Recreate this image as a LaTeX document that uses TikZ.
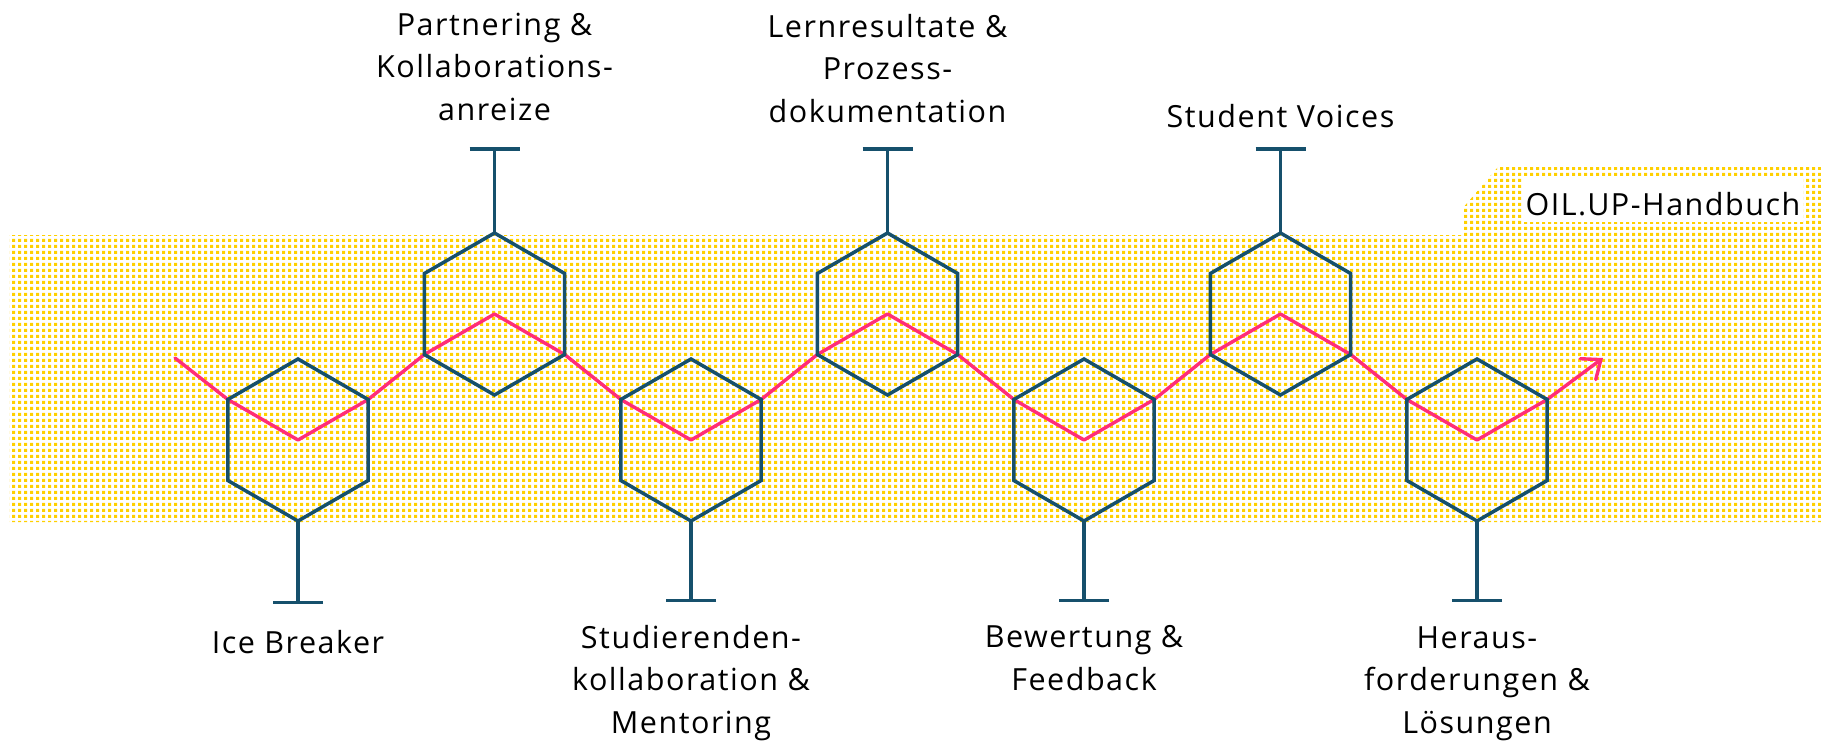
\documentclass[tikz,border=0pt]{standalone}
\usepackage{fontspec}
\setmainfont[LetterSpace=5]{Open Sans}
\usetikzlibrary{shapes.geometric,arrows.meta,patterns}
\definecolor{hexblue}{HTML}{16506C}
\definecolor{oilpink}{HTML}{FF2D78}
\definecolor{dotyellow}{HTML}{FFD000}
\pgfdeclarepatternformonly{ydots}{\pgfqpoint{0pt}{0pt}}{\pgfqpoint{5.5pt}{5.5pt}}{\pgfqpoint{5.5pt}{5.5pt}}{%
  \pgfpathrectangle{\pgfqpoint{1.1pt}{1.1pt}}{\pgfqpoint{3.3pt}{3.3pt}}\pgfusepath{fill}}
\pgfdeclarelayer{back}
\pgfdeclarelayer{mid}
\pgfsetlayers{back,mid,main}
\begin{document}
\begin{tikzpicture}[x=1pt,y=-1pt,
  hexagon/.style={regular polygon, regular polygon sides=6, shape border rotate=30,
    minimum size=162pt, inner sep=0pt, outer sep=0pt, draw=hexblue, line width=3.5pt},
  stem/.style={draw=hexblue, line width=3.5pt, -{Bar[width=50pt]}},
  zigzag/.style={draw=oilpink, line width=3.4pt, line join=round, line cap=round},
  lbl/.style={font=\fontsize{30.5}{42.5}\selectfont, align=center, inner sep=0pt, anchor=base}]
\useasboundingbox (0,0) rectangle (1821,745);

% background band
\begin{pgfonlayer}{back}
\fill[pattern=ydots, pattern color=dotyellow]
  (9,235) -- (1462,235) -- (1462,209) -- (1498,167) -- (1821,167) -- (1821,522) -- (9,522) -- cycle;
\end{pgfonlayer}

% hexagons
\node[hexagon] (L1) at (298,440) {};
\node[hexagon] (U1) at (494.5,314) {};
\node[hexagon] (L2) at (691,440) {};
\node[hexagon] (U2) at (887.5,314) {};
\node[hexagon] (L3) at (1084,440) {};
\node[hexagon] (U3) at (1280.5,314) {};
\node[hexagon] (L4) at (1477,440) {};

% pink path
\coordinate (pstart) at (175,358);
\coordinate (pend) at (1603,358);
\begin{pgfonlayer}{mid}
\draw[zigzag, -{Straight Barb[length=16pt,width=26pt,line cap=round]}]
  (pstart) -- (L1.150) -- (L1.center) -- (L1.30)
  -- (U1.210) -- (U1.center) -- (U1.330)
  -- (L2.150) -- (L2.center) -- (L2.30)
  -- (U2.210) -- (U2.center) -- (U2.330)
  -- (L3.150) -- (L3.center) -- (L3.30)
  -- (U3.210) -- (U3.center) -- (U3.330)
  -- (L4.150) -- (L4.center) -- (L4.30) -- (pend);
\end{pgfonlayer}

% stems
\coordinate (L1b) at (298,604);
\coordinate (L2b) at (691,602);
\coordinate (L3b) at (1084,602);
\coordinate (L4b) at (1477,602);
\coordinate (U1b) at (494.5,147);
\coordinate (U2b) at (887.5,147);
\coordinate (U3b) at (1280.5,147);
\draw[stem] (L1.270) -- (L1b);
\draw[stem] (L2.270) -- (L2b);
\draw[stem] (L3.270) -- (L3b);
\draw[stem] (L4.270) -- (L4b);
\draw[stem] (U1.90) -- (U1b);
\draw[stem] (U2.90) -- (U2b);
\draw[stem] (U3.90) -- (U3b);

% labels (base anchor = baseline of last line)
\node[lbl] (t1) at (494.5,120) {Partnering \&\\Kollaborations-\\anreize};
\node[lbl] (t2) at (887.5,122) {Lernresultate \&\\Prozess-\\dokumentation};
\node[lbl] (t3) at (1280.5,127) {Student Voices};
\node[lbl] (b1) at (298,653) {Ice Breaker};
\node[lbl] (b2) at (691,733) {Studierenden-\\kollaboration \&\\Mentoring};
\node[lbl] (b3) at (1084,690) {Bewertung \&\\Feedback};
\node[lbl] (b4) at (1477,733) {Heraus-\\forderungen \&\\Lösungen};
\node[lbl, fill=white, inner xsep=3pt, text height=37pt, text depth=7pt] (hb) at (1663,215) {OIL.UP-Handbuch};
\end{tikzpicture}
\end{document}
